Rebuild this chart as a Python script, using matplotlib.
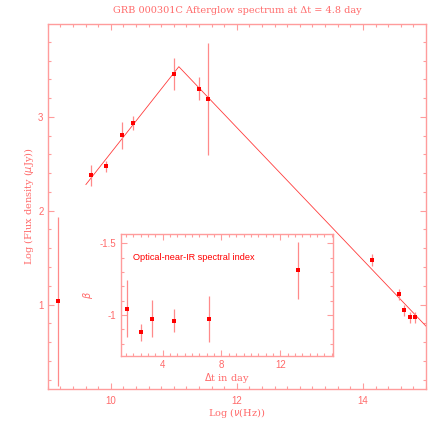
import matplotlib.pyplot as plt
from matplotlib.ticker import MultipleLocator

# main spectrum: log frequency, log flux density and errors
LOG_NU = [9.16, 9.685, 9.926, 10.173, 10.35, 11.0, 11.397, 11.54,
          14.147, 14.567, 14.656, 14.74, 14.83]
LOG_FLUX = [1.035, 2.376, 2.475, 2.805, 2.936, 3.457, 3.301, 3.191,
            1.479, 1.11, 0.94, 0.862, 0.862]
LOG_FLUX_ERR = [0.9, 0.11, 0.06, 0.145, 0.078, 0.17, 0.12, 0.6,
                0.063, 0.06, 0.057, 0.06, 0.06]

# broken power-law fit nodes
FIT_NU = [9.606, 11.08, 15.0]
FIT_FLUX = [2.279, 3.535, 0.77]

# inset: optical-near-IR spectral index vs time
BETA_T = [1.59, 2.50, 3.29, 4.77, 7.17, 13.2]
BETA = [-1.044, -0.88, -0.974, -0.96, -0.974, -1.312]
BETA_ERR = [0.2, 0.06, 0.13, 0.08, 0.16, 0.2]

AXIS_COLOR = "#ff9c9c"
TEXT_COLOR = "#ff6a6a"
DATA_COLOR = "#ff0000"
ERR_COLOR = "#ff8a8a"
LINE_COLOR = "#ff3b3b"

SERIF = ["DejaVu Serif"]
SANS = ["Liberation Sans"]


def style_axes(ax, major_len, minor_len):
    for spine in ax.spines.values():
        spine.set_color(AXIS_COLOR)
        spine.set_linewidth(1.0)
    ax.tick_params(which="both", direction="in", top=True, right=True,
                   color=AXIS_COLOR, width=0.8, labelcolor=TEXT_COLOR,
                   labelsize=7, pad=3)
    ax.tick_params(which="major", length=major_len)
    ax.tick_params(which="minor", length=minor_len)
    for lab in ax.get_xticklabels() + ax.get_yticklabels():
        lab.set_family(SANS)


fig = plt.figure(figsize=(4.36, 4.36), dpi=100)
fig.patch.set_facecolor("white")

ax = fig.add_axes([0.1094, 0.1078, 0.8676, 0.8372])
ax.errorbar(LOG_NU, LOG_FLUX, yerr=LOG_FLUX_ERR, fmt="s", color=DATA_COLOR,
            ms=2.8, mew=0, ecolor=ERR_COLOR, elinewidth=0.9, capsize=2.2,
            capthick=0.9, zorder=3)
ax.plot(FIT_NU, FIT_FLUX, color=LINE_COLOR, linewidth=0.6, zorder=2)
ax.set_xlim(9.0, 15.0)
ax.set_ylim(0.1, 3.99)
ax.xaxis.set_major_locator(MultipleLocator(2))
ax.xaxis.set_minor_locator(MultipleLocator(0.2))
ax.yaxis.set_major_locator(MultipleLocator(1))
ax.yaxis.set_minor_locator(MultipleLocator(0.2))
style_axes(ax, 4.5, 2.2)
ax.tick_params(axis="x", pad=5)
ax.set_xlabel(r"Log ($\nu$(Hz))", family=SERIF, fontsize=7,
              color=TEXT_COLOR, labelpad=0)
ax.set_ylabel(r"Log (Flux density ($\mu$Jy))", family=SERIF, fontsize=7,
              color=TEXT_COLOR, labelpad=0)
ax.yaxis.set_label_coords(-0.03, 0.5)
ax.set_title("GRB 000301C Afterglow spectrum at \u0394t = 4.8 day",
             family=SERIF, fontsize=7, color=TEXT_COLOR, pad=8)

ins = fig.add_axes([0.2768, 0.1842, 0.4877, 0.2784])
ins.errorbar(BETA_T, BETA, yerr=BETA_ERR, fmt="s", color=DATA_COLOR,
             ms=2.6, mew=0, ecolor=ERR_COLOR, elinewidth=0.9, capsize=2.0,
             capthick=0.9, zorder=3)
ins.set_xlim(1.15, 15.6)
ins.set_ylim(-0.716, -1.563)
ins.xaxis.set_major_locator(MultipleLocator(4))
ins.xaxis.set_minor_locator(MultipleLocator(0.5))
ins.yaxis.set_major_locator(MultipleLocator(0.5))
ins.yaxis.set_minor_locator(MultipleLocator(0.1))
ins.yaxis.set_major_formatter(lambda v, pos: f"{v:g}")
style_axes(ins, 4.0, 2.0)
ins.set_xlabel(r"$\Delta$t in day", family=SERIF, fontsize=7,
               color=TEXT_COLOR, labelpad=1)
ins.set_ylabel(r"$\beta$", family=SERIF, fontsize=7, color=TEXT_COLOR)
ins.yaxis.set_label_coords(-0.12, 0.5)
ins.text(0.058, 0.805, "Optical-near-IR spectral index", transform=ins.transAxes,
         family=SANS, fontsize=6.6, color=DATA_COLOR, va="center", ha="left")

fig.savefig("out.png", dpi=100)
